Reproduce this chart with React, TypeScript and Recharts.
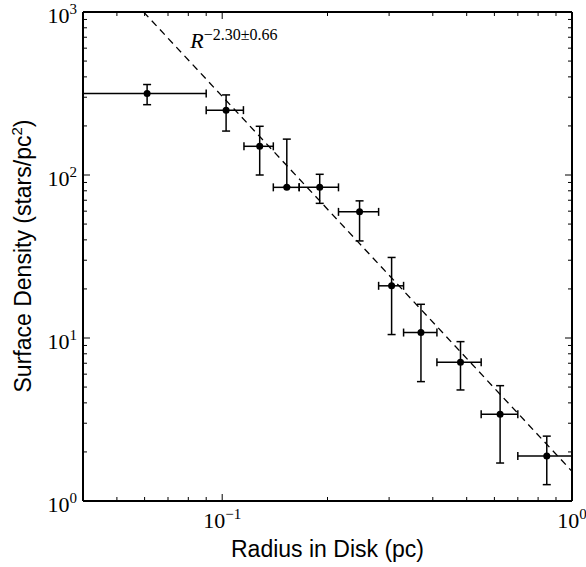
import {
  ScatterChart,
  Scatter,
  XAxis,
  YAxis,
  ErrorBar,
  ReferenceDot,
  Label,
} from 'recharts';

// Surface density profile (log-log axes).
const radius = [0.061, 0.1026, 0.128, 0.153, 0.19, 0.247, 0.305, 0.37, 0.48, 0.623, 0.847];
const radiusLow = [0.04, 0.09, 0.1154, 0.14, 0.166, 0.215, 0.28, 0.33, 0.411, 0.55, 0.7];
const radiusHigh = [0.09, 0.115, 0.14, 0.166, 0.215, 0.28, 0.33, 0.411, 0.55, 0.7, 1];
const density = [316, 250, 150, 84, 84, 59.4, 20.9, 10.8, 7.1, 3.4, 1.89];
const densityLow = [270, 186, 100, 84, 67, 39.4, 10.5, 5.4, 4.8, 1.71, 1.26];
const densityHigh = [359, 310, 199, 166, 101, 69.4, 31.2, 16.1, 9.5, 5.1, 2.5];

// power-law fit R^-2.30, end points of the dashed line
const fitRadius = [0.0596, 1];
const fitDensity = [1000, 1.52];

const xTicks = [0.04, 0.05, 0.06, 0.07, 0.08, 0.09, 0.1, 0.2, 0.3, 0.4, 0.5, 0.6, 0.7, 0.8, 0.9, 1];
const yTicks = [
  1, 2, 3, 4, 5, 6, 7, 8, 9, 10, 20, 30, 40, 50, 60, 70, 80, 90, 100, 200, 300, 400, 500, 600, 700,
  800, 900, 1000,
];

const points = radius.map((r, i) => ({
  x: r,
  y: density[i],
  xErr: [r - radiusLow[i], radiusHigh[i] - r],
  yErr: [density[i] - densityLow[i], densityHigh[i] - density[i]],
}));
const fitLine = fitRadius.map((r, i) => ({ x: r, y: fitDensity[i] }));

const SERIF = '"Liberation Serif", "DejaVu Serif", serif';
const SANS = '"Liberation Sans", "DejaVu Sans", sans-serif';
const MAJOR = 7;
const MINOR = 4;

function exponent(v: number) {
  return Math.round(Math.log10(v));
}
function isDecade(v: number) {
  const l = Math.log10(v);
  return Math.abs(l - Math.round(l)) < 1e-6;
}
function expText(e: number) {
  return e < 0 ? `\u2212${-e}` : `${e}`;
}

function PowerLabel({ x, y, e, anchor }: { x: number; y: number; e: number; anchor: string }) {
  return (
    <text x={x} y={y} textAnchor={anchor} fontFamily={SERIF} fontSize={22} fill="#000">
      10
      <tspan dy={-9} fontSize={15}>
        {expText(e)}
      </tspan>
    </text>
  );
}

function BottomTick(props: any) {
  const { x, y, payload } = props;
  const major = isDecade(payload.value);
  return (
    <g>
      <line x1={x} x2={x} y1={y} y2={y - (major ? MAJOR : MINOR)} stroke="#000" strokeWidth={1} />
      {major && <PowerLabel x={x} y={y + 27} e={exponent(payload.value)} anchor="middle" />}
    </g>
  );
}

function TopTick(props: any) {
  const { x, y, payload } = props;
  const major = isDecade(payload.value);
  return <line x1={x} x2={x} y1={y} y2={y + (major ? MAJOR : MINOR)} stroke="#000" strokeWidth={1} />;
}

function LeftTick(props: any) {
  const { x, y, payload } = props;
  const major = isDecade(payload.value);
  return (
    <g>
      <line x1={x} x2={x + (major ? MAJOR : MINOR)} y1={y} y2={y} stroke="#000" strokeWidth={1} />
      {major && <PowerLabel x={x - 6} y={y + 10.5} e={exponent(payload.value)} anchor="end" />}
    </g>
  );
}

function RightTick(props: any) {
  const { x, y, payload } = props;
  const major = isDecade(payload.value);
  return <line x1={x} x2={x - (major ? MAJOR : MINOR)} y1={y} y2={y} stroke="#000" strokeWidth={1} />;
}

function Dot(props: any) {
  return <circle cx={props.cx} cy={props.cy} r={3.5} fill="#000" />;
}

function FitAnnotation(props: any) {
  return (
    <text x={props.cx} y={props.cy} fontFamily={SERIF} fontSize={22} fill="#000">
      <tspan fontStyle="italic">R</tspan>
      <tspan dy={-8} fontSize={16}>
        {'\u22122.30\u00b10.66'}
      </tspan>
    </text>
  );
}

function YTitle() {
  return (
    <text
      x={31}
      y={256}
      transform="rotate(-90, 31, 256)"
      textAnchor="middle"
      fontFamily={SANS}
      fontSize={23}
      fill="#000"
    >
      Surface Density (stars/pc
      <tspan dy={-9} fontSize={15}>
        2
      </tspan>
      <tspan dy={9}>)</tspan>
    </text>
  );
}

const axisLine = { stroke: '#000', strokeWidth: 2 };

export default function App() {
  return (
    <div style={{ position: 'absolute', left: 0, top: 0, background: '#fff' }}>
      <ScatterChart width={586} height={567} margin={{ top: 11, right: 13, bottom: 0, left: 0 }}>
        <XAxis
          dataKey="x"
          type="number"
          scale="log"
          domain={[0.04, 1]}
          allowDataOverflow
          ticks={xTicks}
          interval={0}
          tickSize={0}
          tickMargin={0}
          tickLine={false}
          tick={<BottomTick />}
          axisLine={axisLine}
          height={66}
        >
          <Label
            value="Radius in Disk (pc)"
            position="insideBottom"
            offset={10}
            fontFamily={SANS}
            fontSize={23}
            fill="#000"
          />
        </XAxis>
        <XAxis
          xAxisId="top"
          dataKey="x"
          orientation="top"
          type="number"
          scale="log"
          domain={[0.04, 1]}
          allowDataOverflow
          ticks={xTicks}
          interval={0}
          tickSize={0}
          tickMargin={0}
          tickLine={false}
          tick={<TopTick />}
          axisLine={axisLine}
          height={1}
        />
        <YAxis
          dataKey="y"
          type="number"
          scale="log"
          domain={[1, 1000]}
          allowDataOverflow
          ticks={yTicks}
          interval={0}
          tickSize={0}
          tickMargin={0}
          tickLine={false}
          tick={<LeftTick />}
          axisLine={axisLine}
          width={83}
        >
          <Label content={<YTitle />} />
        </YAxis>
        <YAxis
          yAxisId="right"
          dataKey="y"
          orientation="right"
          type="number"
          scale="log"
          domain={[1, 1000]}
          allowDataOverflow
          ticks={yTicks}
          interval={0}
          tickSize={0}
          tickMargin={0}
          tickLine={false}
          tick={<RightTick />}
          axisLine={axisLine}
          width={1}
        />
        <Scatter
          data={fitLine}
          xAxisId="top"
          yAxisId="right"
          line={{ stroke: '#000', strokeWidth: 1.3, strokeDasharray: '7 5' }}
          shape={() => <g />}
          isAnimationActive={false}
        />
        <Scatter data={points} shape={<Dot />} isAnimationActive={false}>
          <ErrorBar
            dataKey="xErr"
            direction="x"
            width={4}
            stroke="#000"
            strokeWidth={1.5}
            isAnimationActive={false}
          />
          <ErrorBar
            dataKey="yErr"
            direction="y"
            width={4}
            stroke="#000"
            strokeWidth={1.5}
            isAnimationActive={false}
          />
        </Scatter>
        <ReferenceDot x={0.081} y={600} r={0} shape={<FitAnnotation />} />
      </ScatterChart>
    </div>
  );
}
